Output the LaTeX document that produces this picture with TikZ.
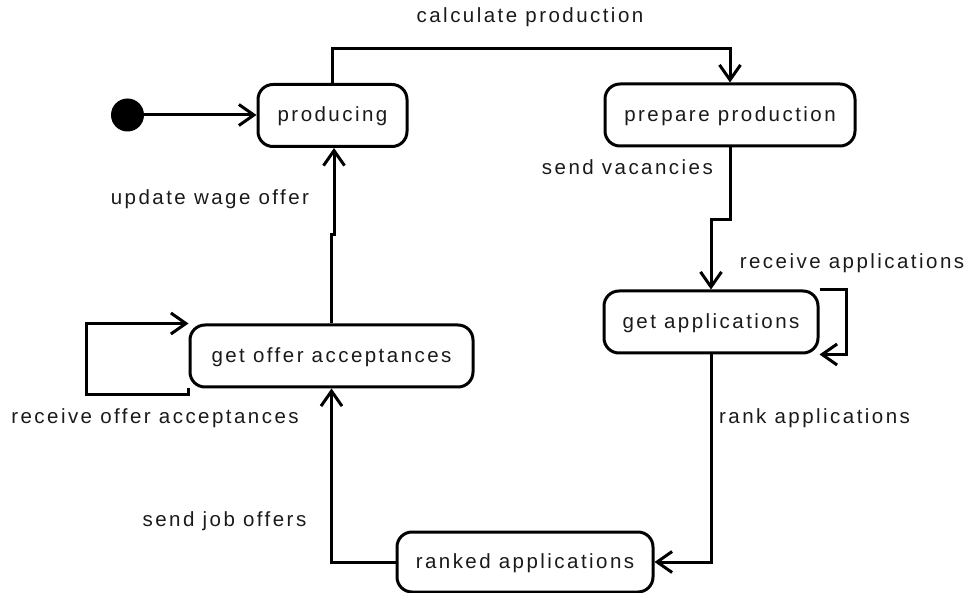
\documentclass[tikz,border=0pt]{standalone}
\usepackage{fontspec}
\setmainfont{Liberation Sans}[LetterSpace=12]
\usetikzlibrary{arrows.meta}
\definecolor{txt}{HTML}{1A1A1A}
\begin{document}
\begin{tikzpicture}[x=1pt,y=-1pt,
  every node/.style={font=\fontsize{20.5}{24}\selectfont, text=txt, text height=16pt, text depth=3pt, inner sep=0pt},
  state/.style={draw=black, line width=3pt, rounded corners=15pt, minimum height=62pt, fill=white},
  arr/.style={line width=3pt, -{Straight Barb[length=15pt,width=21pt]}}
]
\useasboundingbox (0,0) rectangle (967,593);
\node[circle, fill=black, minimum size=33pt] (init) at (127.5,115) {};
\node[state, minimum width=149pt] (prod) at (332.5,115.5) {producing};
\node[state, minimum width=250pt] (prep) at (730,115) {prepare production};
\node[state, minimum width=214pt] (apps) at (711,322) {get applications};
\node[state, minimum width=256pt, minimum height=60pt] (ranked) at (525,562) {ranked applications};
\node[state, minimum width=283pt] (offer) at (331.5,356) {get offer acceptances};

\draw[arr] (init.east) -- (init.east -| prod.west);

\draw[arr] (prod.north) -- ++(0,-34) -| (prep.north);
\node (lcalc) at (530,16) {calculate production};

\draw[arr] (prep.south) -- ++(0,72) -| (apps.north);
\node[anchor=east] (lsv) at (713,168) {send vacancies};

\draw[arr] (apps.north east) -- ++(27,0) |- (apps.south east);
\node (lra) at (852,262) {receive applications};

\draw[arr] (apps.south) |- (ranked.east);
\node[anchor=west] (lrank) at (719,417) {rank applications};

\draw[arr] (ranked.west) -| (offer.south);
\node (ljob) at (224.5,520) {send job offers};

\draw[arr] (offer.south west) -- ++(0,6) -- ++(-102,0) |- (offer.north west);
\node (lroa) at (155,417) {receive offer acceptances};

\draw[arr] (offer.north) -- ++(0,-89) -- ++(2.5,0) coordinate (j) -- (j |- prod.south);
\node (luwo) at (210,198) {update wage offer};
\end{tikzpicture}
\end{document}
